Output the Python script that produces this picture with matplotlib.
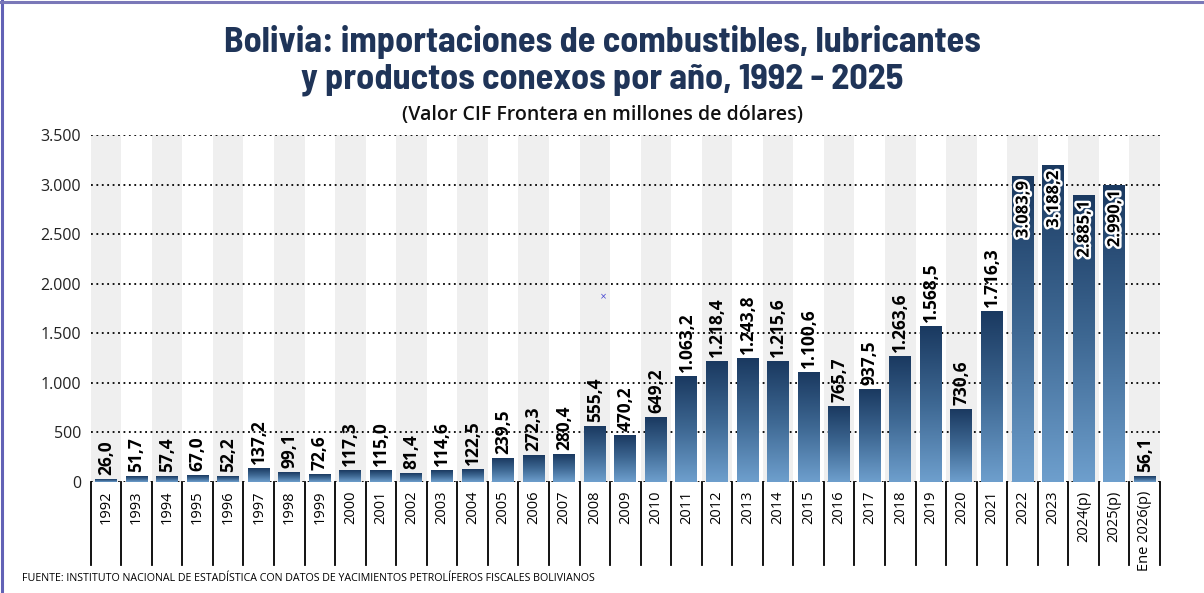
import numpy as np
import matplotlib
matplotlib.use('Agg')
import matplotlib.pyplot as plt
import matplotlib.patheffects as pe
from matplotlib.colors import LinearSegmentedColormap
from matplotlib.lines import Line2D

# data
years = ["1992", "1993", "1994", "1995", "1996", "1997", "1998", "1999", "2000", "2001",
         "2002", "2003", "2004", "2005", "2006", "2007", "2008", "2009", "2010", "2011",
         "2012", "2013", "2014", "2015", "2016", "2017", "2018", "2019", "2020", "2021",
         "2022", "2023", "2024(p)", "2025(p)", "Ene 2026(p)"]
values = [26.0, 51.7, 57.4, 67.0, 52.2, 137.2, 99.1, 72.6, 117.3, 115.0,
          81.4, 114.6, 122.5, 239.5, 272.3, 280.4, 555.4, 470.2, 649.2, 1063.2,
          1218.4, 1243.8, 1215.6, 1100.6, 765.7, 937.5, 1263.6, 1568.5, 730.6, 1716.3,
          3083.9, 3188.2, 2885.1, 2990.1, 56.1]
yticks = [0, 500, 1000, 1500, 2000, 2500, 3000, 3500]


def es_num(v, dec=1):
    s = "{:,.{}f}".format(v, dec)
    return s.replace(",", "X").replace(".", ",").replace("X", ".")


TITLE_FONT = ["Barlow Semi Condensed", "DejaVu Sans"]

W, H = 1204, 593
fig = plt.figure(figsize=(W / 100, H / 100), dpi=100)
ax = fig.add_axes([90.7 / W, 1 - 482 / H, (1160 - 90.7) / W, (482 - 135) / H])
n = len(years)
ax.set_xlim(-0.5, n - 0.5)
ax.set_ylim(0, 3500)

# alternating column bands
for i in range(0, n, 2):
    ax.axvspan(i - 0.5, i + 0.5, color="#efefef", lw=0, zorder=0)

# dotted gridlines
for t in yticks:
    ax.axhline(t, color="black", lw=1.3, ls=(0, (1, 2)), zorder=1)

# gradient bars
cmap = LinearSegmentedColormap.from_list("bar", ["#6e9fcd", "#3e6893", "#1a3960"])
grad = np.linspace(0, 1, 256).reshape(-1, 1)
bw = 0.72
for i, v in enumerate(values):
    ax.imshow(grad, cmap=cmap, origin="lower", aspect="auto",
              extent=[i - bw / 2, i + bw / 2, 0, v], zorder=2, interpolation="bilinear")

# value labels
for i, v in enumerate(values):
    txt = es_num(v)
    if v > 2500:
        ax.text(i, v - 45, txt, rotation=90, ha="center", va="top", fontsize=12,
                fontweight="bold", family="Open Sans", color="black", zorder=4,
                path_effects=[pe.withStroke(linewidth=3.5, foreground="white")])
    else:
        ax.text(i, v + 45, txt, rotation=90, ha="center", va="bottom", fontsize=12.5,
                fontweight="bold", family="Open Sans", color="black", zorder=4)

# axes styling
for s in ax.spines.values():
    s.set_visible(False)
ax.set_yticks(yticks)
ax.set_yticklabels([es_num(t, 0) for t in yticks], fontsize=11.5, family="Open Sans",
                   color="#222222")
ax.set_xticks(range(n))
ax.set_xticklabels(years, rotation=90, fontsize=10.5, family="Open Sans", va="top",
                   color="black")
ax.tick_params(axis="both", length=0)
ax.tick_params(axis="y", pad=7)
ax.tick_params(axis="x", pad=6)

# category separators below the axis
for b in np.arange(-0.5, n, 1.0):
    ax.plot([b, b], [0, -(565 - 482) / 347 * 3500], color="black", lw=1.3,
            clip_on=False, zorder=3)

# titles
fig.text(0.5, 1 - 52 / H, "Bolivia: importaciones de combustibles, lubricantes",
         ha="center", va="baseline", fontsize=26, fontweight="bold",
         family=TITLE_FONT, color="#1f3458")
fig.text(0.5, 1 - 89 / H, "y productos conexos por año, 1992 - 2025",
         ha="center", va="baseline", fontsize=26, fontweight="bold",
         family=TITLE_FONT, color="#1f3458")
fig.text(0.5, 1 - 120 / H, "(Valor CIF Frontera en millones de dólares)",
         ha="center", va="baseline", fontsize=14, fontweight="semibold",
         family="Open Sans", color="#111111")
fig.text(22 / W, 1 - 581 / H,
         "FUENTE: INSTITUTO NACIONAL DE ESTADÍSTICA CON DATOS DE YACIMIENTOS PETROLÍFEROS FISCALES BOLIVIANOS",
         ha="left", va="baseline", fontsize=7.7, family="Open Sans", color="black")
fig.text(603 / W, 1 - 297 / H, "×", ha="center", va="center", fontsize=6, color="#4040d0")

# frame on left and top edge
fig.add_artist(Line2D([1.5 / W, 1.5 / W], [0, 1], color="#6262b6", lw=2.2))
fig.add_artist(Line2D([0, 1], [1 - 2 / H, 1 - 2 / H], color="#7a78b8", lw=2.2))

fig.savefig("out.png", dpi=100)
